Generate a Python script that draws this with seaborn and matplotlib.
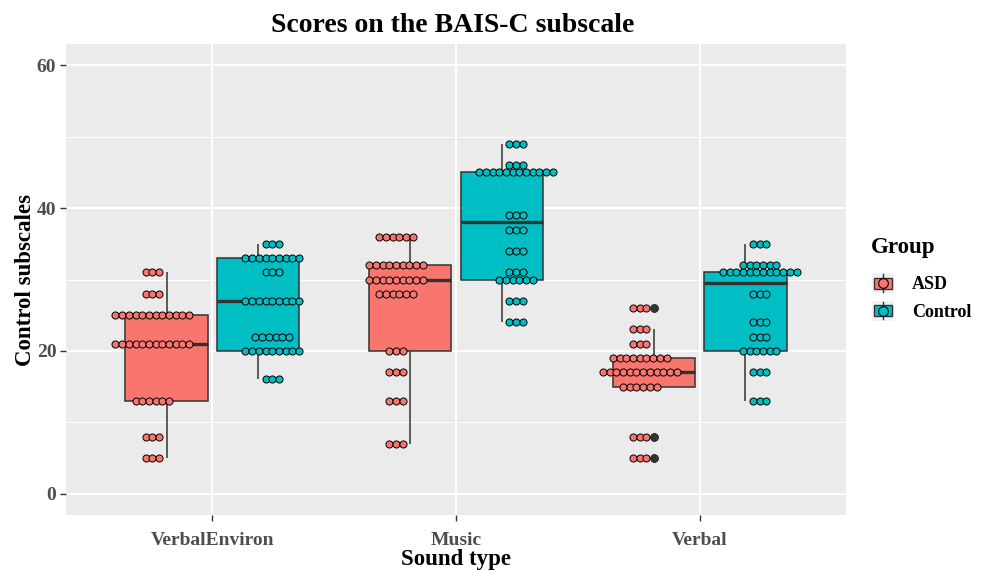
import numpy as np
import pandas as pd
import matplotlib
matplotlib.use('Agg')
import matplotlib.pyplot as plt
import seaborn as sns
from matplotlib.lines import Line2D
from matplotlib.patches import Patch, Rectangle
from matplotlib.legend_handler import HandlerBase

categories = ['VerbalEnviron', 'Music', 'Verbal']
groups = ['ASD', 'Control']
group_colors = ['#F8766D', '#00BFC4']

asd_verbalenviron_scores = [5, 8, 13, 21, 25, 28, 31]
asd_verbalenviron_counts = [3, 3, 6, 12, 12, 3, 3]
ctrl_verbalenviron_scores = [16, 20, 22, 27, 31, 33, 35]
ctrl_verbalenviron_counts = [3, 9, 6, 9, 3, 9, 3]
asd_music_scores = [7, 13, 17, 20, 28, 30, 32, 36]
asd_music_counts = [3, 3, 3, 3, 6, 9, 9, 6]
ctrl_music_scores = [24, 27, 30, 31, 34, 37, 39, 45, 46, 49]
ctrl_music_counts = [3, 3, 6, 3, 3, 3, 3, 12, 3, 3]
asd_verbal_scores = [5, 8, 15, 17, 19, 21, 23, 26]
asd_verbal_counts = [3, 3, 6, 12, 9, 3, 3, 3]
ctrl_verbal_scores = [13, 17, 20, 22, 24, 28, 31, 32, 35]
ctrl_verbal_counts = [3, 3, 6, 3, 3, 3, 12, 6, 3]

series = [
    ('VerbalEnviron', 'ASD', asd_verbalenviron_scores, asd_verbalenviron_counts),
    ('VerbalEnviron', 'Control', ctrl_verbalenviron_scores, ctrl_verbalenviron_counts),
    ('Music', 'ASD', asd_music_scores, asd_music_counts),
    ('Music', 'Control', ctrl_music_scores, ctrl_music_counts),
    ('Verbal', 'ASD', asd_verbal_scores, asd_verbal_counts),
    ('Verbal', 'Control', ctrl_verbal_scores, ctrl_verbal_counts),
]

rows = []
for cat, grp, scores, counts in series:
    for s, c in zip(scores, counts):
        rows += [(cat, grp, s)] * c
df = pd.DataFrame(rows, columns=['Sound type', 'Group', 'score'])

plt.rcParams['font.family'] = ['Liberation Serif', 'DejaVu Serif']
plt.rcParams['font.weight'] = 'bold'

fig = plt.figure(figsize=(9.86, 5.70), dpi=100)
ax = fig.add_axes([66 / 986, 55 / 570, 780 / 986, 471 / 570])
ax.set_facecolor('#EBEBEB')

# grid like ggplot theme_gray
for v in [10, 30, 50]:
    ax.axhline(v, color='white', lw=0.7, zorder=0)
for v in [0, 20, 40, 60]:
    ax.axhline(v, color='white', lw=1.4, zorder=0)
for v in range(len(categories)):
    ax.axvline(v, color='white', lw=1.4, zorder=0)

sns.boxplot(data=df, x='Sound type', y='score', hue='Group', order=categories,
            hue_order=groups, palette=group_colors, saturation=1, width=0.75,
            gap=0.1, linecolor='#333333', linewidth=1.1, showcaps=False,
            medianprops=dict(linewidth=2.4, color='#333333'),
            flierprops=dict(marker='o', markerfacecolor='#333333',
                            markeredgecolor='#333333', markersize=5),
            legend=False, ax=ax, zorder=2)

# centred dot stacks, dodged to each side of the category
step = 0.0275
for cat, grp, scores, counts in series:
    xc = categories.index(cat) + (-0.246 if grp == 'ASD' else 0.246)
    col = group_colors[groups.index(grp)]
    for s, c in zip(scores, counts):
        xs = xc + (np.arange(c) - (c - 1) / 2) * step
        ax.scatter(xs, [s] * c, s=26, color=col, edgecolor='black',
                   linewidth=0.7, zorder=4)

ax.set_xlim(-0.6, 2.6)
ax.set_ylim(-3, 63)
ax.set_yticks([0, 20, 40, 60])
ax.set_xticks(range(len(categories)))
ax.set_xticklabels(categories)
for s in ax.spines.values():
    s.set_visible(False)
ax.tick_params(axis='both', length=4, width=1, color='#333333',
               labelcolor='#4D4D4D', labelsize=14)
ax.tick_params(axis='x', pad=8)
ax.tick_params(axis='y', pad=3)
ax.set_xlabel('')
ax.set_ylabel('')

fig.text(453 / 986, 1 - 25 / 570, 'Scores on the BAIS-C subscale', ha='center',
         va='center', fontsize=20, fontweight='bold')
fig.text(456 / 986, 1 - 559 / 570, 'Sound type', ha='center', va='center',
         fontsize=16.5, fontweight='bold')
fig.text(26 / 986, 1 - 280 / 570, 'Control subscales', ha='center', va='center',
         rotation=90, fontsize=16.5, fontweight='bold')
fig.text(871 / 986, 1 - 248 / 570, 'Group', ha='left', va='center',
         fontsize=16.5, fontweight='bold')


class BoxDotKey(HandlerBase):
    def create_artists(self, legend, orig_handle, xdescent, ydescent,
                       width, height, fontsize, trans):
        fc = orig_handle.get_facecolor()
        x0, y0 = -xdescent, -ydescent
        cx, cy = x0 + width / 2, y0 + height / 2
        bg = Rectangle((x0, cy - height * 0.62), width, height * 1.24,
                       fc='#F2F2F2', ec='none', transform=trans)
        wl = Line2D([cx, cx], [cy - height * 0.55, cy + height * 0.55],
                    color='#333333', lw=1, transform=trans)
        bx = Rectangle((cx - width * 0.42, cy - height * 0.34), width * 0.84,
                       height * 0.68, fc=fc, ec='#333333', lw=1, transform=trans)
        dot = Line2D([cx], [cy], marker='o', ms=7, mfc=fc, mec='black',
                     mew=0.8, transform=trans)
        return [bg, wl, bx, dot]


handles = [Patch(facecolor=c) for c in group_colors]
leg = fig.legend(handles, groups, loc='center left',
                 bbox_to_anchor=(872 / 986, 1 - 298 / 570), frameon=False,
                 handler_map={Patch: BoxDotKey()}, handlelength=1.2,
                 handleheight=1.0, handletextpad=1.0, labelspacing=0.5,
                 borderpad=0, borderaxespad=0, fontsize=13)

fig.savefig('out.png', dpi=100, facecolor='white')
